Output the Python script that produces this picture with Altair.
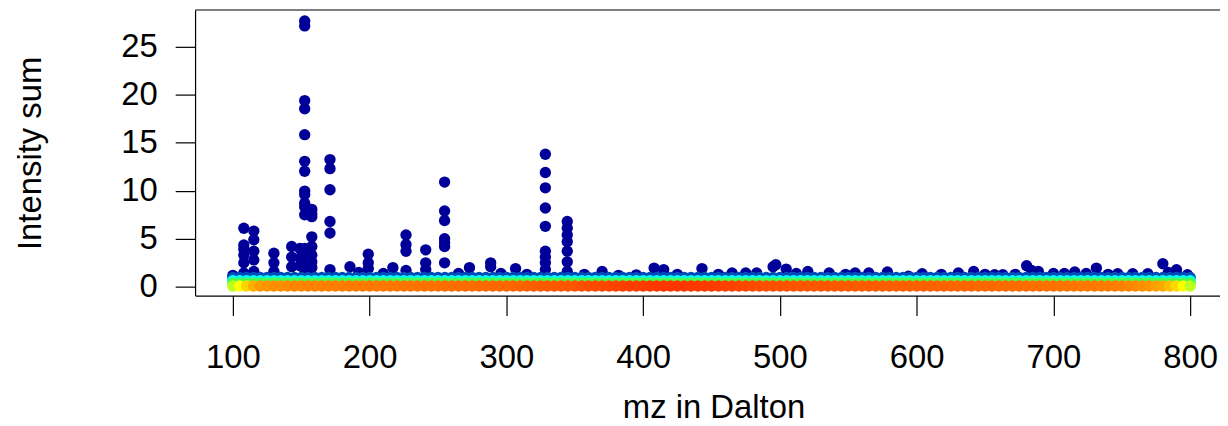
import altair as alt
import pandas as pd

# ---------------- data ----------------
# dense band of low-intensity peaks (y ~ 0), colour = local point density
band_mz = [100, 105, 110, 115, 120, 125, 130, 135, 140,
           145, 150, 155, 160, 165, 170, 175, 180, 185, 190, 195,
           200, 205, 210, 215, 220, 225, 230, 235, 240, 245, 250,
           255, 260, 265, 270, 275, 280, 285, 290, 295, 300,
           305, 310, 315, 320, 325, 330, 335, 340, 345, 350,
           355, 360, 365, 370, 375, 380, 385, 390, 395, 400,
           405, 410, 415, 420, 425, 430, 435, 440, 445, 450,
           455, 460, 465, 470, 475, 480, 485, 490, 495, 500,
           505, 510, 515, 520, 525, 530, 535, 540, 545, 550,
           555, 560, 565, 570, 575, 580, 585, 590, 595, 600,
           605, 610, 615, 620, 625, 630, 635, 640, 645, 650,
           655, 660, 665, 670, 675, 680, 685, 690, 695, 700,
           705, 710, 715, 720, 725, 730, 735, 740, 745, 750,
           755, 760, 765, 770, 775, 780, 785, 790, 795, 800]
band_dens = [0.53, 0.60, 0.68, 0.75, 0.79, 0.80, 0.81, 0.815, 0.82,
             0.83, 0.83, 0.835, 0.835, 0.84, 0.84, 0.845, 0.845, 0.85, 0.85, 0.85,
             0.855, 0.855, 0.86, 0.86, 0.86, 0.865, 0.865, 0.865, 0.87, 0.87, 0.87,
             0.875, 0.875, 0.88, 0.88, 0.88, 0.885, 0.885, 0.89, 0.89, 0.89,
             0.895, 0.90, 0.905, 0.91, 0.915, 0.92, 0.92, 0.925, 0.93, 0.93,
             0.94, 0.945, 0.95, 0.955, 0.96, 0.965, 0.97, 0.975, 0.975, 0.98,
             0.985, 0.985, 0.99, 0.99, 0.99, 0.99, 0.985, 0.985, 0.98, 0.98,
             0.975, 0.97, 0.965, 0.96, 0.955, 0.95, 0.945, 0.94, 0.94, 0.935,
             0.935, 0.93, 0.93, 0.93, 0.925, 0.925, 0.925, 0.92, 0.92, 0.92,
             0.92, 0.915, 0.915, 0.915, 0.915, 0.91, 0.91, 0.91, 0.91, 0.905,
             0.905, 0.905, 0.90, 0.90, 0.90, 0.895, 0.895, 0.895, 0.89, 0.89,
             0.89, 0.885, 0.885, 0.88, 0.88, 0.88, 0.875, 0.875, 0.87, 0.87,
             0.865, 0.865, 0.86, 0.86, 0.855, 0.855, 0.85, 0.85, 0.845, 0.84,
             0.83, 0.82, 0.81, 0.80, 0.78, 0.76, 0.72, 0.67, 0.60, 0.53]

# intensity levels of the thin strips lying on top of the band
band_int = 0.09
strip_int = [0.98, 0.64, 0.40]      # medium blue, cyan, green
strip_dens = [0.06, 0.20, 0.40]

# isolated (low density, dark blue) points
out_mz = [100,
          108, 108, 108, 108, 108, 108,
          115.3, 115.3, 115.3, 115.3, 115.3,
          130, 130, 130,
          143, 143, 143,
          149, 149, 149,
          152.5, 152.5, 152.5, 152.5, 152.5, 152.5, 152.5, 152.5, 152.5, 152.5, 152.5, 152.5, 152.5, 152.5, 152.5, 152.5,
          157.7, 157.7, 157.7, 157.7, 157.7, 157.7, 157.7, 157.7,
          171, 171, 171, 171, 171, 171,
          185.6, 192,
          199, 199, 199,
          210, 217,
          226.6, 226.6, 226.6, 226.6,
          241, 241, 241,
          254.8, 254.8, 254.8, 254.8, 254.8, 254.8, 254.8,
          265, 273,
          288.5, 288.5, 296,
          306.7, 315,
          328.5, 328.5, 328.5, 328.5, 328.5, 328.5, 328.5, 328.5, 328.5,
          344.5, 344.5, 344.5, 344.5, 344.5, 344.5, 344.5,
          357, 370, 382, 395,
          408, 415, 425,
          443, 455, 465, 475, 483,
          495, 497, 504.6, 512, 520.4, 536,
          548, 555, 565, 578.6, 594, 604, 618, 630.5, 641.7, 650,
          657, 663, 672, 680.4, 684, 689, 700, 708, 715.6, 724, 731.4, 740,
          747, 758, 769, 780, 784, 790, 798]
out_int = [1.2,
           6.1, 4.35, 3.9, 3.3, 2.5, 1.45,
           5.8, 4.9, 3.7, 2.8, 1.6,
           3.5, 2.5, 1.6,
           4.2, 3.1, 2.1,
           4.0, 3.0, 2.2,
           27.66, 27.15, 19.38, 18.52, 15.83, 13.06, 12.03, 9.96, 9.6, 8.7, 8.3, 7.5, 4.0, 3.3, 2.6, 1.8,
           8.06, 7.6, 7.3, 5.2, 4.2, 3.3, 2.6, 2.0,
           13.24, 12.3, 10.1, 6.8, 5.6, 1.8,
           2.1, 1.5,
           3.4, 2.5, 1.9,
           1.4, 2.0,
           5.4, 4.4, 3.7, 1.7,
           3.85, 2.5, 1.8,
           10.9, 7.9, 6.9, 5.0, 4.6, 4.2, 2.5,
           1.4, 2.0,
           2.5, 2.1, 1.4,
           1.9, 1.3,
           13.8, 11.9, 10.3, 8.2, 6.3, 3.7, 3.1, 2.5, 1.8,
           6.8, 6.1, 5.4, 4.7, 3.7, 2.6, 1.6,
           1.3, 1.6, 1.2, 1.25,
           1.95, 1.8, 1.3,
           1.9, 1.3, 1.45, 1.45, 1.45,
           2.1, 2.3, 1.85, 1.4, 1.6, 1.45,
           1.3, 1.45, 1.45, 1.55, 1.1, 1.36, 1.3, 1.45, 1.6, 1.3,
           1.26, 1.26, 1.3, 2.2, 1.7, 1.6, 1.4, 1.4, 1.55, 1.4, 1.95, 1.3,
           1.36, 1.36, 1.36, 2.4, 1.5, 1.78, 1.26]
out_dens = 0.0

# axis ranges and ticks
x_ticks = [100, 200, 300, 400, 500, 600, 700, 800]
y_ticks = [0, 5, 10, 15, 20, 25]
x_lo, x_hi = 72.35, 821.8
y_lo, y_hi = -0.91, 28.80

dens_stops = [0.0, 0.2, 0.4, 0.6, 0.8, 1.0]
dens_colors = ["#000099", "#00FEFF", "#45FE4F", "#FCFF00", "#FF9400", "#FF3100"]

# ---------------- build table (drawn low density first) ----------------
rows = []
for m, v in zip(out_mz, out_int):
    rows.append({"mz": m, "intensity": v, "dens": out_dens})
for yi, di in zip(strip_int, strip_dens):
    for m in band_mz:
        rows.append({"mz": m, "intensity": yi, "dens": di})
for m, d in zip(band_mz, band_dens):
    rows.append({"mz": m, "intensity": band_int, "dens": d})
df = pd.DataFrame(rows)

FONT = "Liberation Sans"
FS = 33

points = alt.Chart(df).mark_circle(size=130, opacity=1).encode(
    x=alt.X("mz:Q",
            scale=alt.Scale(domain=[x_lo, x_hi], nice=False, zero=False),
            axis=alt.Axis(values=x_ticks, format="d", grid=False,
                          domainColor="black", domainWidth=1.2,
                          tickColor="black", tickWidth=1.2, tickSize=20,
                          labelFont=FONT, labelFontSize=FS, labelColor="black",
                          labelBaseline="alphabetic", labelPadding=52,
                          labelFlush=False, labelOverlap=False,
                          title="mz in Dalton", titleFont=FONT, titleFontSize=FS,
                          titleFontWeight="normal", titleColor="black",
                          titleBaseline="alphabetic", titleAnchor="start",
                          titleAlign="center", titleX=521, titleY=123)),
    y=alt.Y("intensity:Q",
            scale=alt.Scale(domain=[y_lo, y_hi], nice=False, zero=False),
            axis=alt.Axis(values=y_ticks, format="d", grid=False,
                          domainColor="black", domainWidth=1.2,
                          tickColor="black", tickWidth=1.2, tickSize=20,
                          labelFont=FONT, labelFontSize=FS, labelColor="black",
                          labelAlign="right", labelBaseline="middle", labelPadding=18,
                          labelFlush=False, labelOverlap=False,
                          title="Intensity sum", titleFont=FONT, titleFontSize=FS,
                          titleFontWeight="normal", titleColor="black",
                          titleAngle=270, titleBaseline="alphabetic",
                          titleAlign="center", titleX=-155, titleY=143.5)),
    color=alt.Color("dens:Q",
                    scale=alt.Scale(domain=dens_stops, range=dens_colors, interpolate="rgb"),
                    legend=None),
)

frame_top = alt.Chart(pd.DataFrame({"k": [0]})).mark_rule(color="black", strokeWidth=1.2).encode(
    x=alt.datum(x_lo), x2=alt.datum(x_hi), y=alt.datum(y_hi)
)

chart = alt.layer(points, frame_top).properties(
    width=1030, height=287,
    autosize=alt.AutoSizeParams(type="none"),
    padding={"left": 188, "top": 1, "right": 0, "bottom": 128},
).configure_view(stroke=None)

chart.save("out.html", embed_options={"renderer": "svg", "actions": False})
